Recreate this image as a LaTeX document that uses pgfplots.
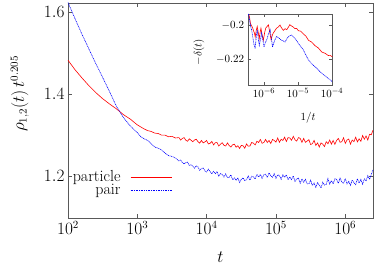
\documentclass[border=0pt]{standalone}
\usepackage{pgfplots}
\pgfplotsset{compat=1.18}
\pgfplotstableread{
x y
2.00 1.483
2.10 1.460
2.20 1.440
2.30 1.421
2.40 1.404
2.50 1.389
2.60 1.376
2.70 1.364
2.80 1.350
2.90 1.339
3.00 1.325
3.05 1.320
3.10 1.315
3.15 1.311
3.20 1.309
3.25 1.305
3.30 1.304
3.35 1.300
3.40 1.300
3.45 1.296
3.50 1.297
3.55 1.293
3.600 1.294
3.625 1.288
3.650 1.292
3.675 1.294
3.700 1.2875
3.725 1.285
3.750 1.291
3.775 1.2875
3.800 1.284
3.825 1.288
3.850 1.290
3.875 1.284
3.900 1.2805
3.925 1.287
3.950 1.281
3.975 1.2835
4.000 1.287
4.025 1.2785
4.050 1.280
4.075 1.2845
4.100 1.276
4.125 1.2815
4.150 1.282
4.175 1.2735
4.200 1.278
4.225 1.2815
4.250 1.275
4.275 1.2735
4.300 1.281
4.325 1.2745
4.350 1.271
4.375 1.2765
4.400 1.278
4.425 1.2705
4.450 1.274
4.475 1.2675
4.500 1.275
4.525 1.274
4.550 1.268
4.575 1.2785
4.600 1.273
4.625 1.2735
4.650 1.282
4.675 1.2805
4.700 1.276
4.725 1.285
4.750 1.282
4.775 1.2895
4.800 1.280
4.825 1.282
4.850 1.2895
4.875 1.282
4.900 1.287
4.925 1.2795
4.950 1.2895
4.975 1.287
5.000 1.283
5.025 1.293
5.050 1.2825
5.075 1.290
5.100 1.287
5.125 1.295
5.150 1.2845
5.175 1.294
5.200 1.293
5.225 1.2875
5.250 1.297
5.275 1.2885
5.300 1.2855
5.325 1.294
5.350 1.292
5.375 1.2825
5.400 1.292
5.425 1.2825
5.450 1.2855
5.475 1.289
5.500 1.277
5.525 1.279
5.550 1.287
5.575 1.275
5.600 1.281
5.625 1.271
5.650 1.281
5.675 1.278
5.700 1.272
5.725 1.284
5.750 1.279
5.775 1.288
5.800 1.278
5.825 1.287
5.850 1.2775
5.875 1.287
5.900 1.292
5.925 1.2825
5.950 1.284
5.975 1.2935
6.000 1.280
6.025 1.288
6.050 1.2905
6.075 1.278
6.100 1.288
6.125 1.284
6.150 1.295
6.175 1.2835
6.200 1.291
6.225 1.285
6.250 1.299
6.275 1.290
6.300 1.298
6.325 1.288
6.350 1.302
6.375 1.301
6.400 1.312
}\redmain
\pgfplotstableread{
x y
2.00 1.624
2.10 1.585
2.20 1.547
2.30 1.511
2.40 1.475
2.50 1.441
2.60 1.406
2.70 1.370
2.80 1.343
2.90 1.322
3.00 1.306
3.05 1.296
3.10 1.291
3.15 1.287
3.20 1.279
3.25 1.271
3.30 1.268
3.35 1.264
3.40 1.256
3.45 1.250
3.50 1.248
3.55 1.244
3.600 1.237
3.625 1.2395
3.650 1.233
3.675 1.2295
3.700 1.2335
3.725 1.234
3.750 1.226
3.775 1.2275
3.800 1.224
3.825 1.2195
3.850 1.225
3.875 1.2225
3.900 1.214
3.925 1.2185
3.950 1.220
3.975 1.2125
4.000 1.210
4.025 1.217
4.050 1.211
4.075 1.2055
4.100 1.2115
4.125 1.206
4.150 1.211
4.175 1.200
4.200 1.206
4.225 1.204
4.250 1.1975
4.275 1.2055
4.300 1.196
4.325 1.197
4.350 1.203
4.375 1.191
4.400 1.1955
4.425 1.190
4.450 1.195
4.475 1.1845
4.500 1.192
4.525 1.1955
4.550 1.189
4.575 1.191
4.600 1.200
4.625 1.190
4.650 1.1995
4.675 1.198
4.700 1.193
4.725 1.2045
4.750 1.1975
4.775 1.204
4.800 1.1945
4.825 1.203
4.850 1.2045
4.875 1.1965
4.900 1.208
4.925 1.2005
4.950 1.197
4.975 1.206
5.000 1.1945
5.025 1.203
5.050 1.2015
5.075 1.192
5.100 1.203
5.125 1.197
5.150 1.203
5.175 1.191
5.200 1.1975
5.225 1.1915
5.250 1.2005
5.275 1.187
5.300 1.193
5.325 1.195
5.350 1.1825
5.375 1.193
5.400 1.185
5.425 1.192
5.450 1.181
5.475 1.181
5.500 1.190
5.525 1.177
5.550 1.183
5.575 1.1725
5.600 1.184
5.625 1.178
5.650 1.171
5.675 1.185
5.700 1.178
5.725 1.1795
5.750 1.194
5.775 1.1805
5.800 1.189
5.825 1.181
5.850 1.1935
5.875 1.192
5.900 1.182
5.925 1.195
5.950 1.186
5.975 1.182
6.000 1.194
6.025 1.181
6.050 1.187
6.075 1.1775
6.100 1.1905
6.125 1.184
6.150 1.179
6.175 1.1935
6.200 1.183
6.225 1.192
6.250 1.180
6.275 1.193
6.300 1.188
6.325 1.201
6.350 1.192
6.375 1.204
6.400 1.215
}\bluemain
\pgfplotstableread{
x y
-6.46 -0.1930
-6.43 -0.1945
-6.40 -0.1985
-6.37 -0.2000
-6.34 -0.2010
-6.31 -0.2030
-6.28 -0.2045
-6.26 -0.2068
-6.23 -0.2030
-6.20 -0.2005
-6.17 -0.2040
-6.14 -0.2078
-6.11 -0.2035
-6.09 -0.2015
-6.06 -0.2050
-6.02 -0.2088
-5.98 -0.2040
-5.95 -0.2015
-5.91 -0.2005
-5.87 -0.1995
-5.83 -0.2040
-5.79 -0.2085
-5.76 -0.2060
-5.73 -0.2045
-5.68 -0.2030
-5.63 -0.2015
-5.58 -0.2008
-5.53 -0.1996
-5.48 -0.2015
-5.43 -0.2028
-5.38 -0.2018
-5.33 -0.2024
-5.28 -0.2008
-5.24 -0.1994
-5.19 -0.2002
-5.14 -0.2008
-5.09 -0.2018
-5.04 -0.2016
-4.99 -0.2030
-4.92 -0.2033
-4.84 -0.2050
-4.77 -0.2062
-4.69 -0.2088
-4.60 -0.2098
-4.50 -0.2120
-4.40 -0.2134
-4.30 -0.2158
-4.20 -0.2166
-4.11 -0.2179
-4.05 -0.2178
-3.99 -0.2187
}\redinset
\pgfplotstableread{
x y
-6.46 -0.1930
-6.43 -0.1960
-6.40 -0.2000
-6.36 -0.2030
-6.33 -0.2070
-6.30 -0.2110
-6.26 -0.2138
-6.23 -0.2070
-6.20 -0.2025
-6.17 -0.2075
-6.14 -0.2118
-6.10 -0.2080
-6.07 -0.2045
-6.03 -0.2090
-6.00 -0.2128
-5.96 -0.2100
-5.92 -0.2085
-5.87 -0.2050
-5.82 -0.2025
-5.78 -0.2080
-5.75 -0.2128
-5.69 -0.2090
-5.63 -0.2065
-5.56 -0.2075
-5.48 -0.2088
-5.43 -0.2092
-5.38 -0.2098
-5.33 -0.2080
-5.28 -0.2066
-5.24 -0.2060
-5.19 -0.2056
-5.14 -0.2066
-5.09 -0.2077
-5.04 -0.2090
-4.99 -0.2106
-4.92 -0.2125
-4.84 -0.2146
-4.77 -0.2175
-4.69 -0.2206
-4.60 -0.2228
-4.50 -0.2246
-4.40 -0.2266
-4.30 -0.2286
-4.20 -0.2302
-4.11 -0.2316
-4.05 -0.2326
-3.99 -0.2337
}\blueinset
\begin{document}
\begin{tikzpicture}
\begin{axis}[
  name=main,
  at={(0pt,0pt)}, anchor=south west,
  scale only axis, width=305pt, height=215pt,
  xmin=2, xmax=6.4, ymin=1.0976, ymax=1.6227,
  xtick={2,3,4,5,6},
  xticklabels={$10^{2}$,$10^{3}$,$10^{4}$,$10^{5}$,$10^{6}$},
  ytick={1.2,1.4,1.6},
  yticklabels={$1.2$,$1.4$,$1.6$},
  tick align=inside, tick pos=both, major tick length=4pt,
  axis line style={black!65}, every tick/.style={black!65},
  font=\fontsize{16}{19}\selectfont,
  xlabel={$t$}, ylabel={$\rho_{1,2}(t)\,t^{0.205}$},
  xlabel style={at={(axis description cs:0.5,-0.18)}, anchor=center},
  ylabel style={at={(axis description cs:-0.158,0.577)}, anchor=center},
  legend plot pos=right, legend cell align=right,
  legend style={at={(axis description cs:0.014,0.223)}, anchor=north west,
    draw=none, fill=none, inner sep=0pt, outer sep=0pt, row sep=0pt,
    nodes={inner sep=0.5pt},
    /tikz/every odd column/.append style={column sep=9pt}},
  legend image code/.code={\draw[#1] (0pt,0pt) -- (41pt,0pt);},
]
\addplot[red, line width=0.6pt] table[x=x,y=y] {\redmain};
\addlegendentry{particle}
\addplot[blue, dash pattern=on 1pt off 0.7pt, line width=0.6pt,
  legend image post style={line width=0.8pt}] table[x=x,y=y] {\bluemain};
\addlegendentry{pair}
\end{axis}
\begin{axis}[
  name=inset,
  at={(179.7pt,133pt)}, anchor=south west,
  scale only axis, width=84.6pt, height=71pt,
  xmin=-6.48, xmax=-3.99, ymin=-0.2356, ymax=-0.193,
  xtick={-6,-5,-4},
  xticklabels={$10^{-6}$,$10^{-5}$,$10^{-4}$},
  ytick={-0.2,-0.22},
  yticklabels={$-0.2$,$-0.22$},
  tick align=inside, tick pos=both, major tick length=3pt,
  axis line style={black!65}, every tick/.style={black!65},
  axis background/.style={fill=white},
  font=\fontsize{11}{13}\selectfont,
  xlabel={$1/t$}, ylabel={$-\delta(t)$},
  xlabel style={at={(axis description cs:0.713,-0.465)}, anchor=center},
  ylabel style={at={(axis description cs:-0.576,0.465)}, anchor=center},
]
\addplot[red, line width=0.6pt] table[x=x,y=y] {\redinset};
\addplot[blue, dash pattern=on 1pt off 0.7pt, line width=0.6pt] table[x=x,y=y] {\blueinset};
\end{axis}
\pgfresetboundingbox
\path (-68pt,-48pt) rectangle (306pt,218pt);
\end{tikzpicture}
\end{document}
